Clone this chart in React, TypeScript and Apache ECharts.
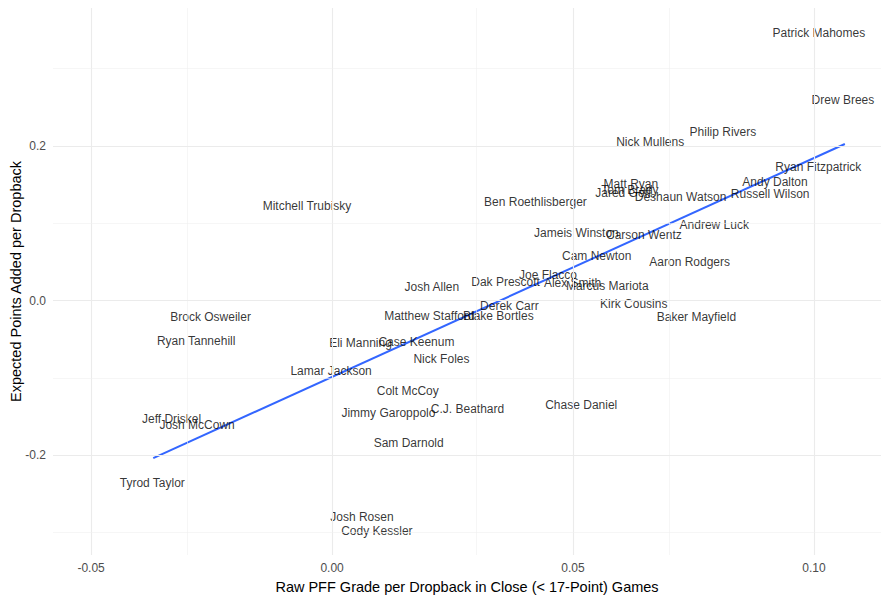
import React, { useEffect, useRef } from "react";
import * as echarts from "echarts";

const qbNames = [
  "Patrick Mahomes", "Drew Brees", "Philip Rivers", "Nick Mullens", "Ryan Fitzpatrick",
  "Andy Dalton", "Russell Wilson", "Deshaun Watson", "Matt Ryan", "Jared Goff",
  "Tom Brady", "Ben Roethlisberger", "Mitchell Trubisky", "Jameis Winston", "Carson Wentz",
  "Andrew Luck", "Cam Newton", "Aaron Rodgers", "Joe Flacco", "Dak Prescott",
  "Alex Smith", "Marcus Mariota", "Josh Allen", "Derek Carr", "Kirk Cousins",
  "Baker Mayfield", "Blake Bortles", "Matthew Stafford", "Eli Manning", "Case Keenum",
  "Nick Foles", "Lamar Jackson", "Colt McCoy", "Jimmy Garoppolo", "C.J. Beathard",
  "Chase Daniel", "Sam Darnold", "Josh Rosen", "Cody Kessler", "Brock Osweiler",
  "Ryan Tannehill", "Jeff Driskel", "Josh McCown", "Tyrod Taylor",
];

const pffGrade = [
  0.1010, 0.1060, 0.0811, 0.0660, 0.1009,
  0.0919, 0.0909, 0.0723, 0.0620, 0.0604,
  0.0618, 0.0422, -0.0052, 0.0507, 0.0647,
  0.0793, 0.0549, 0.0742, 0.0448, 0.0360,
  0.0499, 0.0571, 0.0207, 0.0368, 0.0626,
  0.0756, 0.0345, 0.0202, 0.0059, 0.0175,
  0.0227, -0.0002, 0.0157, 0.0117, 0.0281,
  0.0517, 0.0159, 0.0062, 0.0093, -0.0252,
  -0.0282, -0.0333, -0.0280, -0.0373,
];

const epaPerDropback = [
  0.3463, 0.2595, 0.2181, 0.2052, 0.1728,
  0.1534, 0.1379, 0.1340, 0.1508, 0.1392,
  0.1424, 0.1275, 0.1223, 0.0874, 0.0848,
  0.0977, 0.0576, 0.0498, 0.0330, 0.0239,
  0.0227, 0.0188, 0.0175, -0.0071, -0.0045,
  -0.0214, -0.0201, -0.0201, -0.0550, -0.0537,
  -0.0757, -0.0913, -0.1172, -0.1456, -0.1405,
  -0.1353, -0.1845, -0.2803, -0.2984, -0.0214,
  -0.0524, -0.1534, -0.1612, -0.2362,
];

// linear fit endpoints
const fitX = [-0.0371, 0.1064];
const fitY = [-0.2039, 0.2026];

const xMajor = [-0.05, 0, 0.05, 0.1];
const xMinor = [-0.025, 0.025, 0.075];
const yMajor = [-0.2, 0, 0.2];
const yMinor = [-0.3, -0.1, 0.1, 0.3];

const xRange = [-0.0579, 0.1139];
const yRange = [-0.3294, 0.3786];

const FONT = "'Liberation Sans', Arial, sans-serif";

export default function App() {
  const ref = useRef<HTMLDivElement>(null);
  useEffect(() => {
    if (!ref.current) return;
    const chart = echarts.init(ref.current, null, { renderer: "svg" });
    const gridLines: any[] = [];
    xMajor.forEach((v) => gridLines.push({ xAxis: v, lineStyle: { color: "#ebebeb", width: 1.1, type: "solid" } }));
    xMinor.forEach((v) => gridLines.push({ xAxis: v, lineStyle: { color: "#f0f0f0", width: 0.6, type: "solid" } }));
    yMajor.forEach((v) => gridLines.push({ yAxis: v, lineStyle: { color: "#ebebeb", width: 1.1, type: "solid" } }));
    yMinor.forEach((v) => gridLines.push({ yAxis: v, lineStyle: { color: "#f0f0f0", width: 0.6, type: "solid" } }));

    chart.setOption({
      animation: false,
      backgroundColor: "#ffffff",
      grid: { left: 53, right: 8, top: 8, bottom: 46, containLabel: false, outerBoundsMode: "none" },
      xAxis: {
        type: "value",
        min: xRange[0],
        max: xRange[1],
        name: "Raw PFF Grade per Dropback in Close (< 17-Point) Games",
        nameLocation: "middle",
        nameGap: 24,
        nameMoveOverlap: false,
        nameTextStyle: { color: "#000000", fontSize: 14.5, fontFamily: FONT },
        axisLine: { show: false },
        axisTick: { show: false },
        splitLine: { show: false },
        axisLabel: {
          customValues: xMajor,
          formatter: (v: number) => v.toFixed(2),
          color: "#4d4d4d",
          fontSize: 12,
          fontFamily: FONT,
          margin: 7,
        },
      },
      yAxis: {
        type: "value",
        min: yRange[0],
        max: yRange[1],
        name: "Expected Points Added per Dropback",
        nameLocation: "middle",
        nameGap: 30,
        nameMoveOverlap: false,
        nameTextStyle: { color: "#000000", fontSize: 14.5, fontFamily: FONT },
        axisLine: { show: false },
        axisTick: { show: false },
        splitLine: { show: false },
        axisLabel: {
          customValues: yMajor,
          formatter: (v: number) => v.toFixed(1),
          color: "#4d4d4d",
          fontSize: 12,
          fontFamily: FONT,
          margin: 7,
        },
      },
      series: [
        {
          type: "line",
          data: [],
          silent: true,
          markLine: {
            silent: true,
            symbol: ["none", "none"],
            label: { show: false },
            data: gridLines,
          },
          z: 0,
        },
        {
          type: "line",
          data: fitX.map((x, i) => [x, fitY[i]]),
          showSymbol: false,
          symbol: "none",
          lineStyle: { color: "#3366FF", width: 2 },
          silent: true,
          z: 3,
        },
        {
          type: "scatter",
          symbolSize: 0,
          data: qbNames.map((n, i) => ({ name: n, value: [pffGrade[i], epaPerDropback[i]] })),
          label: {
            show: true,
            position: "inside",
            formatter: "{b}",
            color: "#000000",
            fontSize: 12,
            fontFamily: FONT,
            align: "center",
            verticalAlign: "middle",
          },
          labelLayout: { hideOverlap: false },
          z: 4,
        },
      ],
    });
    return () => chart.dispose();
  }, []);
  return <div ref={ref} style={{ width: 889, height: 601, position: "absolute", left: 0, top: 0 }} />;
}
